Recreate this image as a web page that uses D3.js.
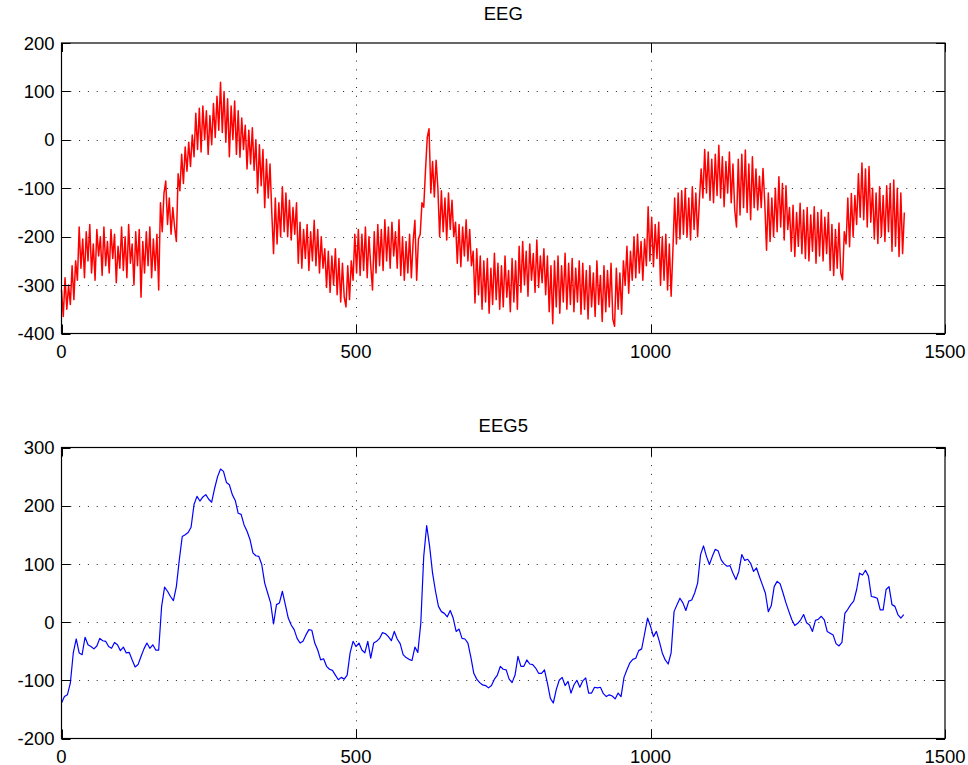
<!DOCTYPE html>
<html>
<head>
<meta charset="utf-8">
<script src="https://cdn.jsdelivr.net/npm/d3@7"></script>
<style>
  body { margin: 0; background: #fff; }
  svg { display: block; font-family: Helvetica, Arial, "Liberation Sans", sans-serif; }
</style>
</head>
<body>
<div id="chart"></div>
<script>
// raw EEG trace, one value every 3 samples
const eegStep = 3;
const eeg = [
  -310, -365, -285, -350, -300,                        // 0-12
  -340, -260, -330, -250,                              // 15-24
  -290, -180, -265, -205, -285, -190, -250, -175, -275, -215,
  -290, -185, -240, -200, -280, -180, -260, -210, -275, -185,
  -245, -195, -295, -220, -265,                        // 27-99
  -180, -270, -200, -285, -175, -255, -215, -300, -190, -260,
  -185, -325, -210,                                    // 102-138
  -275, -190, -260, -180, -285, -205, -270, -195, -310, // 141-165
  -130, -190, -110, -85, -175, -120, -195, -140, -180, -210, // 168-195
  -70, -105, -30, -90, -15,                            // 198-210
  -65, -5, -55, 10,                                    // 213-222
  -35, 55, -20, 65,                                    // 225-234
  -25, 70, 0, 60, -30, 50, -10, 75, 5,                 // 237-261
  90, 20, 119, 15,                                     // 264-273
  100, -5, 85, -35, 70, 0, 80,                         // 276-294
  -30, 60, -36, 45, -20,                               // 297-309
  30, -60, 20, -50, 25, -63, 0,                        // 312-330
  -110, -10, -95, -20,                                 // 333-342
  -140, -40, -120, -50, -150,                          // 345-357
  -235, -120, -215, -130, -200, -97,                   // 360-375
  -190, -110, -200, -125, -207, -140, -195, -130,      // 378-399
  -255, -170, -265, -185, -245, -175, -270, -190, -250, // 402-426
  -166, -260, -185, -275, -200, -265,                  // 429-444
  -225, -305, -230, -315, -240, -300, -225,            // 447-465
  -320, -245, -335, -255, -325, -345, -260, -330,      // 468-489
  -250, -290, -195, -275,                              // 492-501
  -185, -280, -195, -270, -180, -285, -200, -260, -310, -190, -275, // 504-534
  -175, -260, -185, -270, -165, -250, -180, -265, -170, -240,
  -190, -265, -165,                                    // 537-573
  -280, -200, -290, -210, -275, -195,                  // 576-591
  -285, -210, -166, -290, -205,                        // 594-606
  -195, -130, -139, -63, 5, 23,                        // 609-624
  -110, -45, -118, -42, -100,                          // 627-639
  -200, -105, -190, -120, -207, -110, -185, -125, -200, // 642-666
  -170, -255, -175, -262, -180, -240, -165, -250, -185, -260, // 669-696
  -230, -337, -225, -320,                              // 699-708
  -240, -350, -250, -335, -245, -358, -265, -340, -234, -330,
  -255, -350, -260, -345, -240, -325, -270, -355, -245, -335,
  -250, -350,                                          // 711-774
  -220, -315, -210, -300, -230, -323, -215, -290, -235, -315,
  -207, -305, -240, -295, -225,                        // 777-819
  -320, -240, -355, -260, -380, -250,                  // 822-837
  -345, -240, -358, -260, -335, -234, -350, -255, -340, -245,
  -355, -265, -335, -250,                              // 840-879
  -360, -255, -350, -270, -370, -260, -345, -275, -365, -250,
  -340, -280, -375, -260, -355, -270, -345, -255, -370, -385,
  -265, -350, -275, -360, -250,                        // 882-954
  -300, -220, -317, -230, -290,                        // 957-969
  -200, -285, -195, -275, -210, -290, -205, -260,      // 972-993
  -138, -250, -160, -262, -175, -245, -170,            // 996-1014
  -300, -200, -290, -195, -310, -215, -323, -230,      // 1017-1038
  -120, -215, -110, -205,                              // 1041-1050
  -105, -195, -100, -200, -120, -207, -97, -185, -110, -200, -125, // 1053-1083
  -60, -120, -20, -110,                                // 1086-1095
  -25, -125, -40, -130, -30, -115, -11, -120, -35, -138,
  -45, -110, -25, -130, -50,                           // 1098-1140
  -145, -180, -40, -155, -30, -140, -21, -150, -50, -165,
  -35, -140, -60, -145, -75,                           // 1143-1185
  -140, -59, -130,                                     // 1188-1194
  -228, -110, -210, -120, -200,                        // 1197-1209
  -100, -190, -76, -180, -90, -207, -95, -185,         // 1212-1233
  -140, -230, -135, -241, -150, -220, -131, -235, -145, // 1236-1260
  -245, -140, -250, -155, -230, -138, -255, -150, -240, -145,
  -250, -160, -235, -150,                              // 1263-1302
  -270, -175, -280, -185, -265, -172, -275, -289, -190, // 1305-1329
  -215, -120, -221, -111, -200, -115,                  // 1332-1347
  -175, -70, -160, -48, -165, -60, -180, -55, -170,    // 1350-1374
  -100, -205, -110, -214, -97, -200, -115, -210, -95, -190, // 1377-1404
  -90, -230, -83, -220, -100, -241, -110, -235,        // 1407-1428
  -150                                                 // 1431
];

// smoothed EEG5 trace, one value every 5 samples
const eeg5Step = 5;
const eeg5 = [
  -139, -128, -125, -105, -53, -29, -53, -56, -26, -39,
  -42, -46, -41, -28, -32, -33, -42, -45, -35, -39,
  -49, -43, -53, -52, -65, -77, -73, -59, -46, -36,
  -45, -39, -48, -48, 27, 60, 53, 44, 37, 61,
  107, 147, 150, 154, 163, 202, 216, 208, 215, 219,
  211, 206, 230, 250, 263, 259, 240, 236, 219, 209,
  187, 185, 167, 156, 142, 119, 114, 113, 99, 67,
  50, 33, -3, 30, 33, 53, 30, 7, -5, -13,
  -28, -36, -33, -22, -13, -14, -36, -48, -65, -63,
  -76, -81, -83, -91, -99, -95, -98, -91, -53, -33,
  -42, -36, -48, -53, -33, -62, -36, -33, -28, -18,
  -20, -25, -32, -16, -29, -37, -56, -61, -64, -66,
  -43, -52, -2, 113, 166, 130, 84, 53, 27, 18,
  15, 9, 20, 7, -16, -12, -28, -29, -36, -60,
  -88, -98, -104, -108, -109, -113, -109, -98, -91, -76,
  -81, -82, -98, -104, -91, -59, -76, -76, -65, -72,
  -73, -79, -88, -88, -82, -105, -131, -139, -116, -100,
  -95, -109, -102, -122, -108, -100, -112, -101, -96, -122,
  -122, -112, -113, -112, -123, -128, -125, -127, -132, -122,
  -128, -95, -82, -70, -64, -62, -49, -46, -20, 7,
  -7, -25, -16, -33, -53, -65, -72, -53, 18, 30,
  41, 33, 20, 36, 38, 50, 67, 116, 131, 113,
  99, 113, 125, 122, 107, 100, 96, 97, 84, 73,
  87, 116, 106, 108, 101, 87, 93, 78, 64, 50,
  18, 28, 61, 70, 66, 50, 33, 18, 4, -6,
  -2, 4, 13, -1, -5, -16, 3, 5, 10, 4,
  -16, -19, -22, -37, -41, -35, 15, 22, 30, 36,
  56, 84, 81, 89, 79, 44, 43, 41, 21, 21,
  56, 61, 30, 27, 13, 7, 13
];

const xTicks = [0, 500, 1000, 1500];
const eegTicks = [-400, -300, -200, -100, 0, 100, 200];
const eeg5Ticks = [-200, -100, 0, 100, 200, 300];

const width = 968, height = 765;
const svg = d3.select('#chart').append('svg')
  .attr('width', width)
  .attr('height', height);

function drawPanel(opts) {
  const { top, bottom, left, right, yDomain, yTicks, values, step, color, lineWidth, title, titleGap } = opts;

  const x = d3.scaleLinear().domain([0, 1500]).range([left, right]);
  const y = d3.scaleLinear().domain(yDomain).range([bottom, top]);
  const g = svg.append('g');
  const tickLen = 9;

  // dotted grid on interior ticks
  g.selectAll('.vgrid')
    .data(xTicks.filter(t => t > 0 && t < 1500))
    .join('line')
    .attr('x1', d => Math.round(x(d)) + 0.5).attr('x2', d => Math.round(x(d)) + 0.5)
    .attr('y1', top).attr('y2', bottom)
    .attr('stroke', '#222').attr('stroke-width', 1)
    .attr('stroke-dasharray', '1,7.8');

  g.selectAll('.hgrid')
    .data(yTicks.filter(t => t > yDomain[0] && t < yDomain[1]))
    .join('line')
    .attr('y1', d => Math.round(y(d)) + 0.5).attr('y2', d => Math.round(y(d)) + 0.5)
    .attr('x1', left).attr('x2', right)
    .attr('stroke', '#222').attr('stroke-width', 1)
    .attr('stroke-dasharray', '1,7.8');

  // the trace
  const line = d3.line()
    .x((d, i) => x(i * step))
    .y(d => y(d));

  g.append('path')
    .datum(values)
    .attr('fill', 'none')
    .attr('stroke', color)
    .attr('stroke-width', lineWidth)
    .attr('stroke-linejoin', 'round')
    .attr('d', line);

  // inward ticks on all four sides
  const ticks = g.append('g').attr('stroke', '#000').attr('stroke-width', 1);
  xTicks.forEach(t => {
    const px = Math.round(x(t)) + 0.5;
    ticks.append('line').attr('x1', px).attr('x2', px).attr('y1', bottom).attr('y2', bottom - tickLen);
    ticks.append('line').attr('x1', px).attr('x2', px).attr('y1', top).attr('y2', top + tickLen);
  });
  yTicks.forEach(t => {
    const py = Math.round(y(t)) + 0.5;
    ticks.append('line').attr('x1', left).attr('x2', left + tickLen).attr('y1', py).attr('y2', py);
    ticks.append('line').attr('x1', right).attr('x2', right - tickLen).attr('y1', py).attr('y2', py);
  });

  // box
  g.append('rect')
    .attr('x', left).attr('y', top)
    .attr('width', right - left).attr('height', bottom - top)
    .attr('fill', 'none').attr('stroke', '#000').attr('stroke-width', 1.2);

  // tick labels
  g.selectAll('.xlab')
    .data(xTicks)
    .join('text')
    .attr('x', d => x(d))
    .attr('y', bottom + 24)
    .attr('text-anchor', 'middle')
    .attr('font-size', 18.5)
    .text(d => d);

  g.selectAll('.ylab')
    .data(yTicks)
    .join('text')
    .attr('x', left - 7)
    .attr('y', d => y(d))
    .attr('dy', '0.36em')
    .attr('text-anchor', 'end')
    .attr('font-size', 18.5)
    .text(d => d);

  g.append('text')
    .attr('x', (left + right) / 2)
    .attr('y', top - titleGap)
    .attr('text-anchor', 'middle')
    .attr('font-size', 18.5)
    .text(title);
}

drawPanel({
  top: 43, bottom: 333.5, left: 61.5, right: 945,
  yDomain: [-400, 200], yTicks: eegTicks,
  values: eeg, step: eegStep, color: '#ff0000', lineWidth: 1.5,
  title: 'EEG', titleGap: 23
});

drawPanel({
  top: 447.5, bottom: 738.5, left: 61.5, right: 945,
  yDomain: [-200, 300], yTicks: eeg5Ticks,
  values: eeg5, step: eeg5Step, color: '#0000ff', lineWidth: 1.2,
  title: 'EEG5', titleGap: 16
});
</script>
</body>
</html>
